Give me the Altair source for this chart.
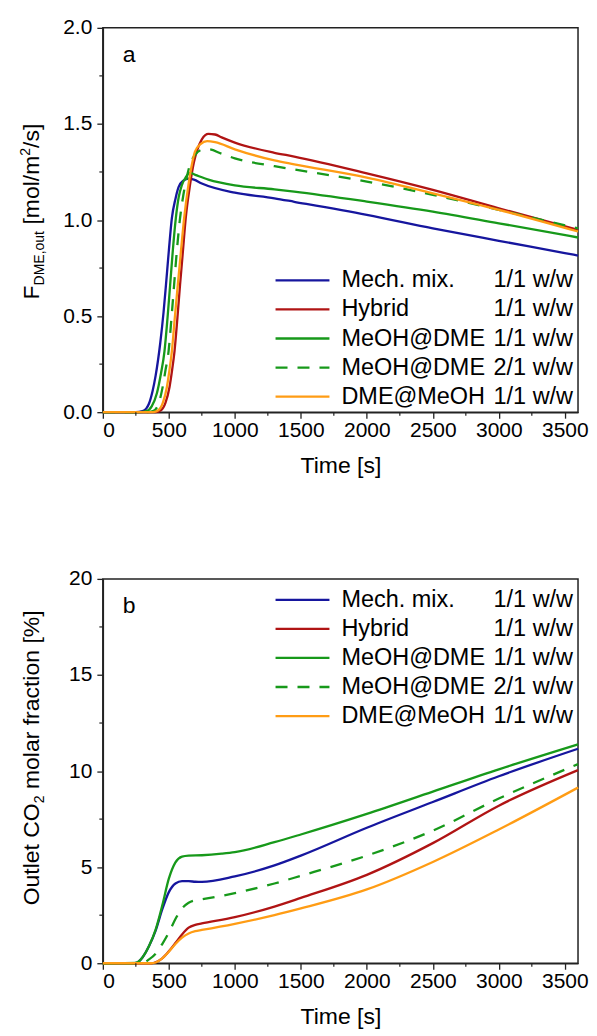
import altair as alt
import pandas as pd

FONT = "Liberation Sans"

# ---------------- data ----------------
keys = ["mech", "hybrid", "meoh11", "meoh21", "dmemeoh"]
legend_names = ["Mech. mix.", "Hybrid", "MeOH@DME", "MeOH@DME", "DME@MeOH"]
legend_ratios = ["1/1 w/w", "1/1 w/w", "1/1 w/w", "2/1 w/w", "1/1 w/w"]
colors = ["#16169e", "#b01414", "#17991a", "#17991a", "#ff9c14"]
dashed = [False, False, False, True, False]

# panel a: F_DME,out [mol/m2/s]
t_a_mech = [0, 250, 300, 330, 350, 377, 400, 435, 460, 478, 500, 523, 550, 573, 610, 650, 690, 750, 1000, 1300, 1450, 2000, 2500, 3000, 3500, 3600]
v_a_mech = [0, 0, 0.005, 0.02, 0.045, 0.11, 0.19, 0.36, 0.52, 0.66, 0.84, 1.01, 1.11, 1.17, 1.205, 1.215, 1.21, 1.19, 1.142, 1.113, 1.095, 1.027, 0.957, 0.892, 0.828, 0.815]
t_a_hyb = [0, 400, 440, 475, 505, 525, 543, 565, 585, 607, 628, 660, 690, 711, 750, 800, 850, 900, 1000, 1300, 1450, 2000, 2500, 3000, 3600]
v_a_hyb = [0, 0, 0.01, 0.05, 0.13, 0.22, 0.317, 0.49, 0.663, 0.84, 1.01, 1.18, 1.3, 1.356, 1.42, 1.448, 1.445, 1.43, 1.403, 1.35, 1.33, 1.243, 1.157, 1.061, 0.949]
t_a_meoh11 = [0, 280, 330, 370, 410, 440, 467, 490, 510, 530, 553, 575, 598, 630, 661, 700, 800, 1000, 1300, 1450, 2000, 2500, 3000, 3600]
v_a_meoh11 = [0, 0, 0.005, 0.03, 0.1, 0.2, 0.317, 0.49, 0.663, 0.84, 1.01, 1.12, 1.18, 1.225, 1.245, 1.235, 1.21, 1.18, 1.16, 1.148, 1.096, 1.044, 0.983, 0.909]
t_a_meoh21 = [0, 330, 380, 420, 450, 475, 498, 520, 540, 562, 585, 610, 635, 661, 700, 750, 800, 900, 1000, 1300, 1450, 2000, 2500, 3000, 3600]
v_a_meoh21 = [0, 0, 0.005, 0.04, 0.12, 0.22, 0.317, 0.49, 0.663, 0.85, 1.01, 1.13, 1.22, 1.29, 1.34, 1.365, 1.368, 1.345, 1.321, 1.28, 1.263, 1.2, 1.131, 1.053, 0.957]
t_a_dme = [0, 380, 420, 455, 485, 505, 523, 545, 568, 592, 616, 648, 675, 698, 740, 790, 850, 1000, 1300, 1450, 2000, 2500, 3000, 3600]
v_a_dme = [0, 0, 0.01, 0.05, 0.13, 0.22, 0.317, 0.49, 0.663, 0.84, 1.01, 1.18, 1.29, 1.356, 1.395, 1.41, 1.405, 1.368, 1.31, 1.29, 1.221, 1.139, 1.053, 0.94]

# panel b: outlet CO2 molar fraction [%]
t_b_mech = [0, 240, 270, 300, 350, 400, 450, 500, 550, 600, 650, 700, 750, 1000, 1300, 1500, 2000, 2500, 3000, 3600]
v_b_mech = [0, 0, 0.08, 0.3, 0.9, 1.7, 2.8, 3.7, 4.15, 4.27, 4.27, 4.24, 4.23, 4.52, 5.09, 5.6, 7.05, 8.39, 9.73, 11.16]
t_b_hyb = [0, 370, 400, 450, 500, 550, 600, 650, 700, 750, 1000, 1300, 1500, 2000, 2500, 3000, 3600]
v_b_hyb = [0, 0, 0.05, 0.25, 0.62, 1.05, 1.5, 1.85, 2.0, 2.07, 2.4, 2.95, 3.4, 4.6, 6.25, 8.2, 10.05]
t_b_meoh11 = [0, 240, 270, 300, 350, 400, 450, 500, 550, 600, 650, 750, 900, 1000, 1300, 1500, 2000, 2500, 3000, 3600]
v_b_meoh11 = [0, 0, 0.08, 0.3, 0.9, 1.75, 3.0, 4.4, 5.25, 5.55, 5.6, 5.62, 5.7, 5.78, 6.3, 6.7, 7.77, 8.93, 10.09, 11.39]
t_b_meoh21 = [0, 300, 350, 400, 450, 500, 550, 600, 650, 700, 750, 1000, 1300, 1500, 2000, 2500, 3000, 3600]
v_b_meoh21 = [0, 0.02, 0.2, 0.5, 1.0, 1.6, 2.3, 2.85, 3.15, 3.28, 3.33, 3.65, 4.15, 4.55, 5.6, 6.9, 8.57, 10.36]
t_b_dme = [0, 370, 400, 450, 500, 550, 600, 650, 700, 750, 1000, 1300, 1500, 2000, 2500, 3000, 3600]
v_b_dme = [0, 0, 0.04, 0.25, 0.6, 1.0, 1.33, 1.55, 1.67, 1.73, 2.05, 2.5, 2.85, 3.84, 5.27, 6.96, 9.14]

x_ticks = [0, 500, 1000, 1500, 2000, 2500, 3000, 3500]
x_minor = [250, 750, 1250, 1750, 2250, 2750, 3250]
a_ticks = [0.0, 0.5, 1.0, 1.5, 2.0]
a_minor = [0.25, 0.75, 1.25, 1.75]
b_ticks = [0, 5, 10, 15, 20]
b_minor = [2.5, 7.5, 12.5, 17.5]

W, H = 476, 385
FS = 23.5
LW = 2.3


def one():
    return pd.DataFrame({"k": [0]})


def panel(ts, vs, ydom, yticks, yminor, yfmt, letter, legend_top, title_pieces):
    X = alt.X("time:Q", scale=alt.Scale(domain=[0, 3600], nice=False, zero=False),
              axis=alt.Axis(values=x_ticks, title="Time [s]", format="d"))
    Y = alt.Y("value:Q", scale=alt.Scale(domain=ydom, nice=False),
              axis=alt.Axis(values=yticks, format=yfmt, title=None))
    layers = []
    for i, k in enumerate(keys):
        df = pd.DataFrame({"time": ts[i], "value": vs[i]})
        mk = dict(color=colors[i], strokeWidth=LW, interpolate="monotone")
        if dashed[i]:
            mk["strokeDash"] = [12, 10]
        layers.append(alt.Chart(df).mark_line(**mk).encode(x=X, y=Y))
    # minor ticks (outward)
    layers.append(alt.Chart(pd.DataFrame({"time": x_minor})).mark_rule(color="#222222", strokeWidth=1.2)
                  .encode(x=X, y=alt.value(H), y2=alt.value(H + 3.5)))
    layers.append(alt.Chart(pd.DataFrame({"value": yminor})).mark_rule(color="#222222", strokeWidth=1.2)
                  .encode(y=Y, x=alt.value(0), x2=alt.value(-3.5)))
    # panel letter
    layers.append(alt.Chart(one()).mark_text(text=letter, align="left", baseline="middle",
                                              font=FONT, fontSize=23, color="black")
                  .encode(x=alt.value(20), y=alt.value(27)))
    # legend (relative to the right edge of the plot)
    for i, k in enumerate(keys):
        yy = legend_top + 29.1 * i
        rk = dict(color=colors[i], strokeWidth=LW)
        if dashed[i]:
            rk["strokeDash"] = [12, 10]
        layers.append(alt.Chart(one()).mark_rule(**rk)
                      .encode(x=alt.value(W - 303), x2=alt.value(W - 249), y=alt.value(yy)))
        layers.append(alt.Chart(one()).mark_text(text=legend_names[i], align="left", baseline="middle",
                                                  font=FONT, fontSize=FS, color="black")
                      .encode(x=alt.value(W - 237), y=alt.value(yy)))
        layers.append(alt.Chart(one()).mark_text(text=legend_ratios[i], align="right", baseline="middle",
                                                  font=FONT, fontSize=FS, color="black")
                      .encode(x=alt.value(W - 5), y=alt.value(yy)))
    # y title pieces (rotated, reading upwards)
    for txt, xb, yb, fs in title_pieces:
        layers.append(alt.Chart(one()).mark_text(text=txt, angle=270, align="left", baseline="alphabetic",
                                                  font=FONT, fontSize=fs, color="black")
                      .encode(x=alt.value(xb), y=alt.value(yb)))
    return alt.layer(*layers).properties(width=W, height=H)


XB = -64
title_a = [
    ("F", XB, 272, 23),
    ("DME,out", XB + 5, 258, 14),
    ("[mol/m", XB, 197.1, 23),
    ("2", XB - 9, 128.1, 14),
    ("/s]", XB, 120.3, 23),
]
title_b = [
    ("Outlet CO", XB, 327, 23),
    ("2", XB + 5, 224.7, 14),
    ("molar fraction [%]", XB, 210.5, 23),
]

top = panel([t_a_mech, t_a_hyb, t_a_meoh11, t_a_meoh21, t_a_dme],
            [v_a_mech, v_a_hyb, v_a_meoh11, v_a_meoh21, v_a_dme],
            [0, 2.0], a_ticks, a_minor, ".1f", "a", 253, title_a)
bottom = panel([t_b_mech, t_b_hyb, t_b_meoh11, t_b_meoh21, t_b_dme],
               [v_b_mech, v_b_hyb, v_b_meoh11, v_b_meoh21, v_b_dme],
               [0, 20], b_ticks, b_minor, "d", "b", 21, title_b)

chart = alt.vconcat(top, bottom, spacing=89).properties(
    padding={"top": 7, "left": 10, "right": 0, "bottom": 2}
).configure_view(stroke="#222222", strokeWidth=1.5).configure_axis(
    labelFont=FONT, labelFontSize=21, labelColor="black",
    titleFont=FONT, titleFontSize=23, titleColor="black", titleFontWeight="normal",
    domainColor="#222222", domainWidth=1.5, tickColor="#222222", tickWidth=1.3, tickSize=6,
    grid=False,
).configure_axisX(labelPadding=1, titlePadding=14).configure_axisY(labelPadding=5)

chart.save("out.html", embed_options={"renderer": "svg", "actions": False})
